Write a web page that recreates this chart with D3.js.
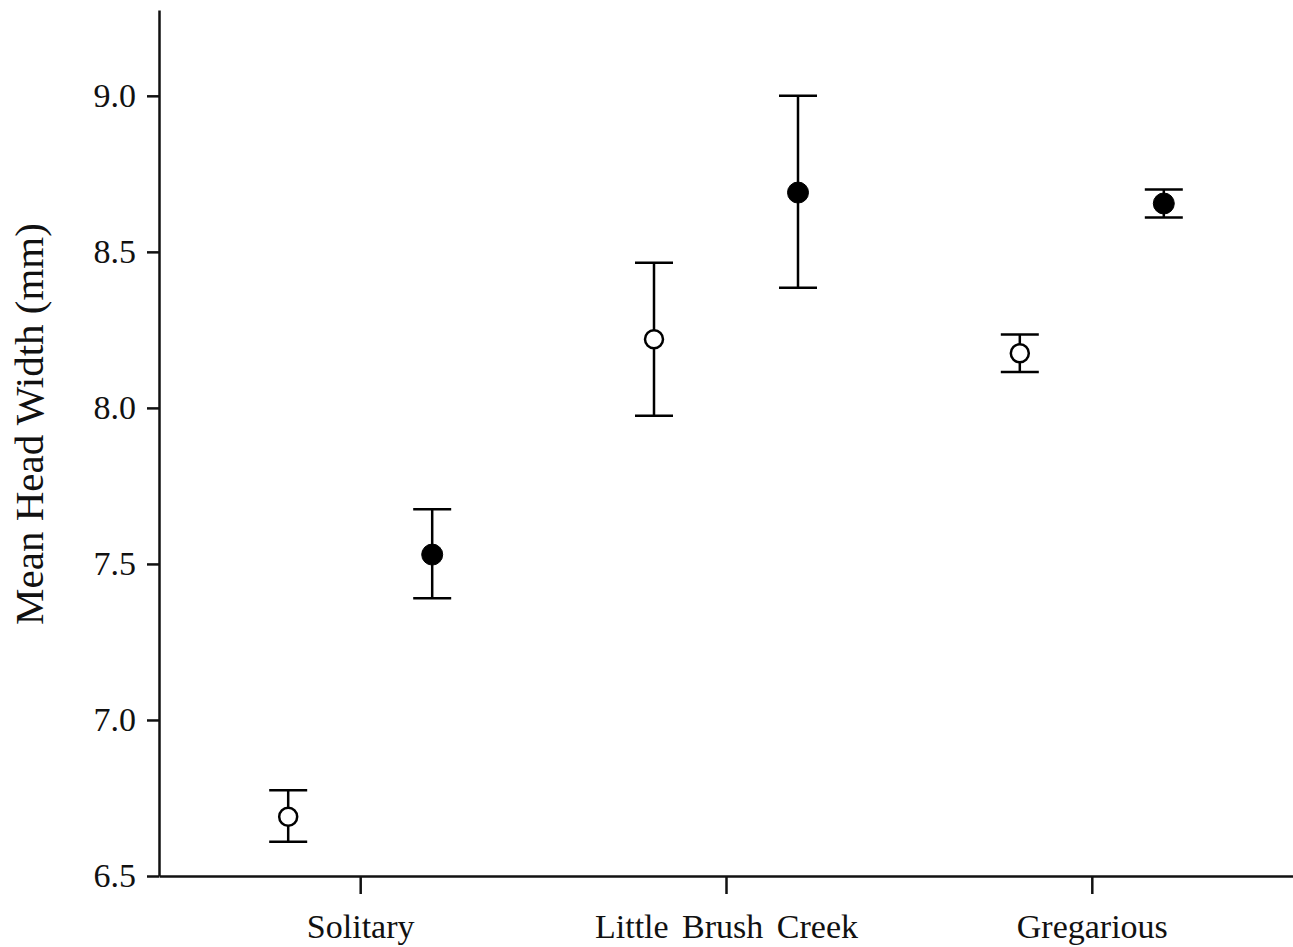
<!DOCTYPE html>
<html>
<head>
<meta charset="utf-8">
<script src="https://cdn.jsdelivr.net/npm/d3@7"></script>
<style>
  body { margin: 0; background: #fff; }
  svg text { font-family: "Liberation Serif", "Times New Roman", serif; fill: #111; }
</style>
</head>
<body>
<svg id="chart"></svg>
<script>
// Mean head width by population, two groups (open / filled)
const categories = ["Solitary", "Little Brush Creek", "Gregarious"];
const groups = ["open", "filled"];

const openMean = [6.69, 8.22, 8.175];
const openLow = [6.61, 7.975, 8.115];
const openHigh = [6.775, 8.465, 8.235];

const filledMean = [7.53, 8.69, 8.655];
const filledLow = [7.39, 8.385, 8.61];
const filledHigh = [7.675, 9.0, 8.70];

const yTicks = [6.5, 7.0, 7.5, 8.0, 8.5, 9.0];

const WIDTH = 1293;
const HEIGHT = 947;
const margin = { top: 10, right: 0, bottom: 71, left: 159 };

const svg = d3.select("#chart")
    .attr("width", WIDTH)
    .attr("height", HEIGHT);

const y = d3.scaleLinear()
    .domain([6.5, 9.275])
    .range([HEIGHT - margin.bottom, margin.top]);

const x = d3.scalePoint()
    .domain(categories)
    .range([margin.left, WIDTH - margin.right])
    .padding(0.55);

const offset = d3.scalePoint()
    .domain(groups)
    .range([-72, 72]);

// Axes
const yAxis = svg.append("g")
    .attr("transform", `translate(${margin.left},0)`)
    .call(d3.axisLeft(y).tickValues(yTicks).tickFormat(d3.format(".1f"))
        .tickSize(12).tickSizeOuter(0).tickPadding(11));

const xAxis = svg.append("g")
    .attr("transform", `translate(0,${HEIGHT - margin.bottom})`)
    .call(d3.axisBottom(x).tickSize(18).tickSizeOuter(0).tickPadding(20));

[yAxis, xAxis].forEach(a => {
    a.select(".domain").attr("stroke", "#111").attr("stroke-width", 2.5);
    a.selectAll(".tick line").attr("stroke", "#111").attr("stroke-width", 2.5);
    a.selectAll(".tick text")
        .attr("font-size", "34px")
        .attr("font-family", "Liberation Serif, Times New Roman, serif")
        .attr("fill", "#111");
});
xAxis.selectAll(".tick text").attr("word-spacing", "5px");

// Axis title
svg.append("text")
    .attr("transform", `translate(43, 424) rotate(-90)`)
    .attr("text-anchor", "middle")
    .attr("font-size", "41px")
    .text("Mean Head Width (mm)");

// Error bars + markers
const series = [
    { group: "open", mean: openMean, low: openLow, high: openHigh, fill: "#fff" },
    { group: "filled", mean: filledMean, low: filledLow, high: filledHigh, fill: "#000" }
];

const CAP = 19;

series.forEach(s => {
    const g = svg.append("g").attr("class", `series-${s.group}`);
    categories.forEach((cat, i) => {
        const cx = x(cat) + offset(s.group);

        g.append("line")
            .attr("x1", cx).attr("x2", cx)
            .attr("y1", y(s.low[i])).attr("y2", y(s.high[i]))
            .attr("stroke", "#000").attr("stroke-width", 2.5);

        [s.low[i], s.high[i]].forEach(v => {
            g.append("line")
                .attr("x1", cx - CAP).attr("x2", cx + CAP)
                .attr("y1", y(v)).attr("y2", y(v))
                .attr("stroke", "#000").attr("stroke-width", 2.5);
        });

        g.append("circle")
            .attr("cx", cx).attr("cy", y(s.mean[i]))
            .attr("r", s.group === "open" ? 9 : 10.5)
            .attr("fill", s.fill)
            .attr("stroke", "#000")
            .attr("stroke-width", s.group === "open" ? 2.5 : 1);
    });
});
</script>
</body>
</html>
